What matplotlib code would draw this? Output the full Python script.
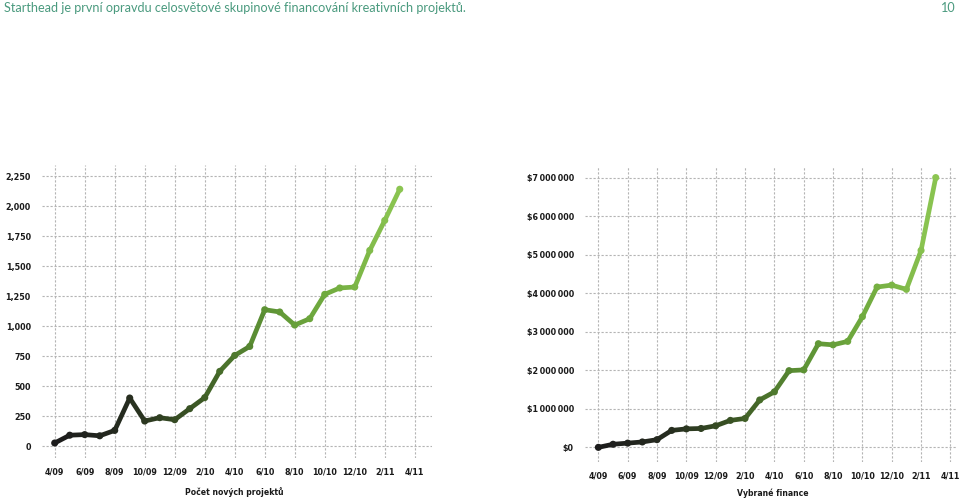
import numpy as np
import matplotlib
matplotlib.use("Agg")
import matplotlib.pyplot as plt
from matplotlib.collections import LineCollection
from matplotlib.colors import LinearSegmentedColormap

# ---- data ----
title_text = "Starthead je první opravdu celosvětové skupinové financování kreativních projektů."
page_number = "10"
tick_labels = ["4/09", "6/09", "8/09", "10/09", "12/09", "2/10", "4/10",
               "6/10", "8/10", "10/10", "12/10", "2/11", "4/11"]
# monthly values 4/09 .. 3/11
projects = [25, 90, 95, 85, 130, 400, 208, 236, 219, 311, 403, 622,
            755, 830, 1136, 1117, 1008, 1061, 1264, 1317, 1325, 1630, 1880, 2140]
funds = [0.0, 0.08, 0.11, 0.14, 0.20, 0.44, 0.48, 0.49, 0.56, 0.70, 0.75, 1.23,
         1.44, 1.99, 2.01, 2.69, 2.66, 2.75, 3.39, 4.16, 4.21, 4.10, 5.11, 7.00]  # millions USD
proj_ticks = [0, 250, 500, 750, 1000, 1250, 1500, 1750, 2000, 2250]
proj_tick_labels = ["0", "250", "500", "750", "1,000", "1,250", "1,500", "1,750", "2,000", "2,250"]
fund_ticks = [0, 1, 2, 3, 4, 5, 6, 7]
fund_tick_labels = ["$0", "$1\u2009000\u2009000", "$2\u2009000\u2009000", "$3\u2009000\u2009000",
                    "$4\u2009000\u2009000", "$5\u2009000\u2009000", "$6\u2009000\u2009000",
                    "$7\u2009000\u2009000"]
left_xlabel = "Počet nových projektů"
right_xlabel = "Vybrané finance"

W, H = 959, 498
fig = plt.figure(figsize=(W / 100, H / 100), dpi=100)

cmap = LinearSegmentedColormap.from_list(
    "g", ["#1c1c1c", "#252b1f", "#3a5424", "#5c9134", "#72ad40", "#8cc552"])

tick_font = dict(family="DejaVu Sans", weight="bold", size=5.8, color="#1a1a1a")
grid_col = "#b4b4b4"


def make_axes(x0, x1, y0, y1):
    # pixel box -> figure fraction
    return fig.add_axes([x0 / W, 1 - y1 / H, (x1 - x0) / W, (y1 - y0) / H])


def draw(ax, vals, xlim, ylim, yticks, ylabels, xlabel, xlabel_xy):
    n = len(vals)
    x = np.arange(n)
    y = np.asarray(vals, dtype=float)
    ax.set_xlim(*xlim)
    ax.set_ylim(*ylim)
    ax.set_xticks(np.arange(0, 25, 2))
    ax.set_xticklabels(tick_labels, **tick_font)
    ax.set_yticks(yticks)
    ax.set_yticklabels(ylabels, **tick_font)
    ax.tick_params(length=0)
    ax.tick_params(axis="x", pad=7)
    ax.tick_params(axis="y", pad=8)
    for s in ax.spines.values():
        s.set_visible(False)
    ax.grid(True, color=grid_col, linestyle=(0, (2.0, 1.6)), linewidth=0.8)
    ax.set_axisbelow(True)
    # gradient line
    pts = np.column_stack([x, y]).reshape(-1, 1, 2)
    segs = np.concatenate([pts[:-1], pts[1:]], axis=1)
    t = (x[:-1] + 0.5) / (n - 1)
    lc = LineCollection(segs, colors=cmap(t), linewidths=3.4, capstyle="round",
                        joinstyle="round", zorder=3)
    ax.add_collection(lc)
    ax.scatter(x, y, s=26, c=cmap(x / (n - 1)), zorder=4, linewidths=0)
    fig.text(xlabel_xy[0] / W, 1 - xlabel_xy[1] / H, xlabel, ha="center", va="center",
             family="DejaVu Sans", weight="bold", size=5.6, color="#1a1a1a")


# left chart: gridline box 42..432 px, 165..458 px
axL = make_axes(42, 432, 165, 458)
draw(axL, projects, (-0.847, 25.15), (-100, 2342), proj_ticks, proj_tick_labels,
     left_xlabel, (234, 492))

# right chart
axR = make_axes(585, 957, 167, 462)
draw(axR, funds, (-0.91, 24.45), (-0.38, 7.275), fund_ticks, fund_tick_labels,
     right_xlabel, (773, 493))

fig.text(4 / W, 1 - 8 / H, title_text, ha="left", va="center",
         family="Lato", size=9.1, color="#4a9a7e")
fig.text(956 / W, 1 - 8 / H, page_number, ha="right", va="center",
         family="Lato", size=9.1, color="#4a9a7e")

fig.savefig("out.png", dpi=100)
